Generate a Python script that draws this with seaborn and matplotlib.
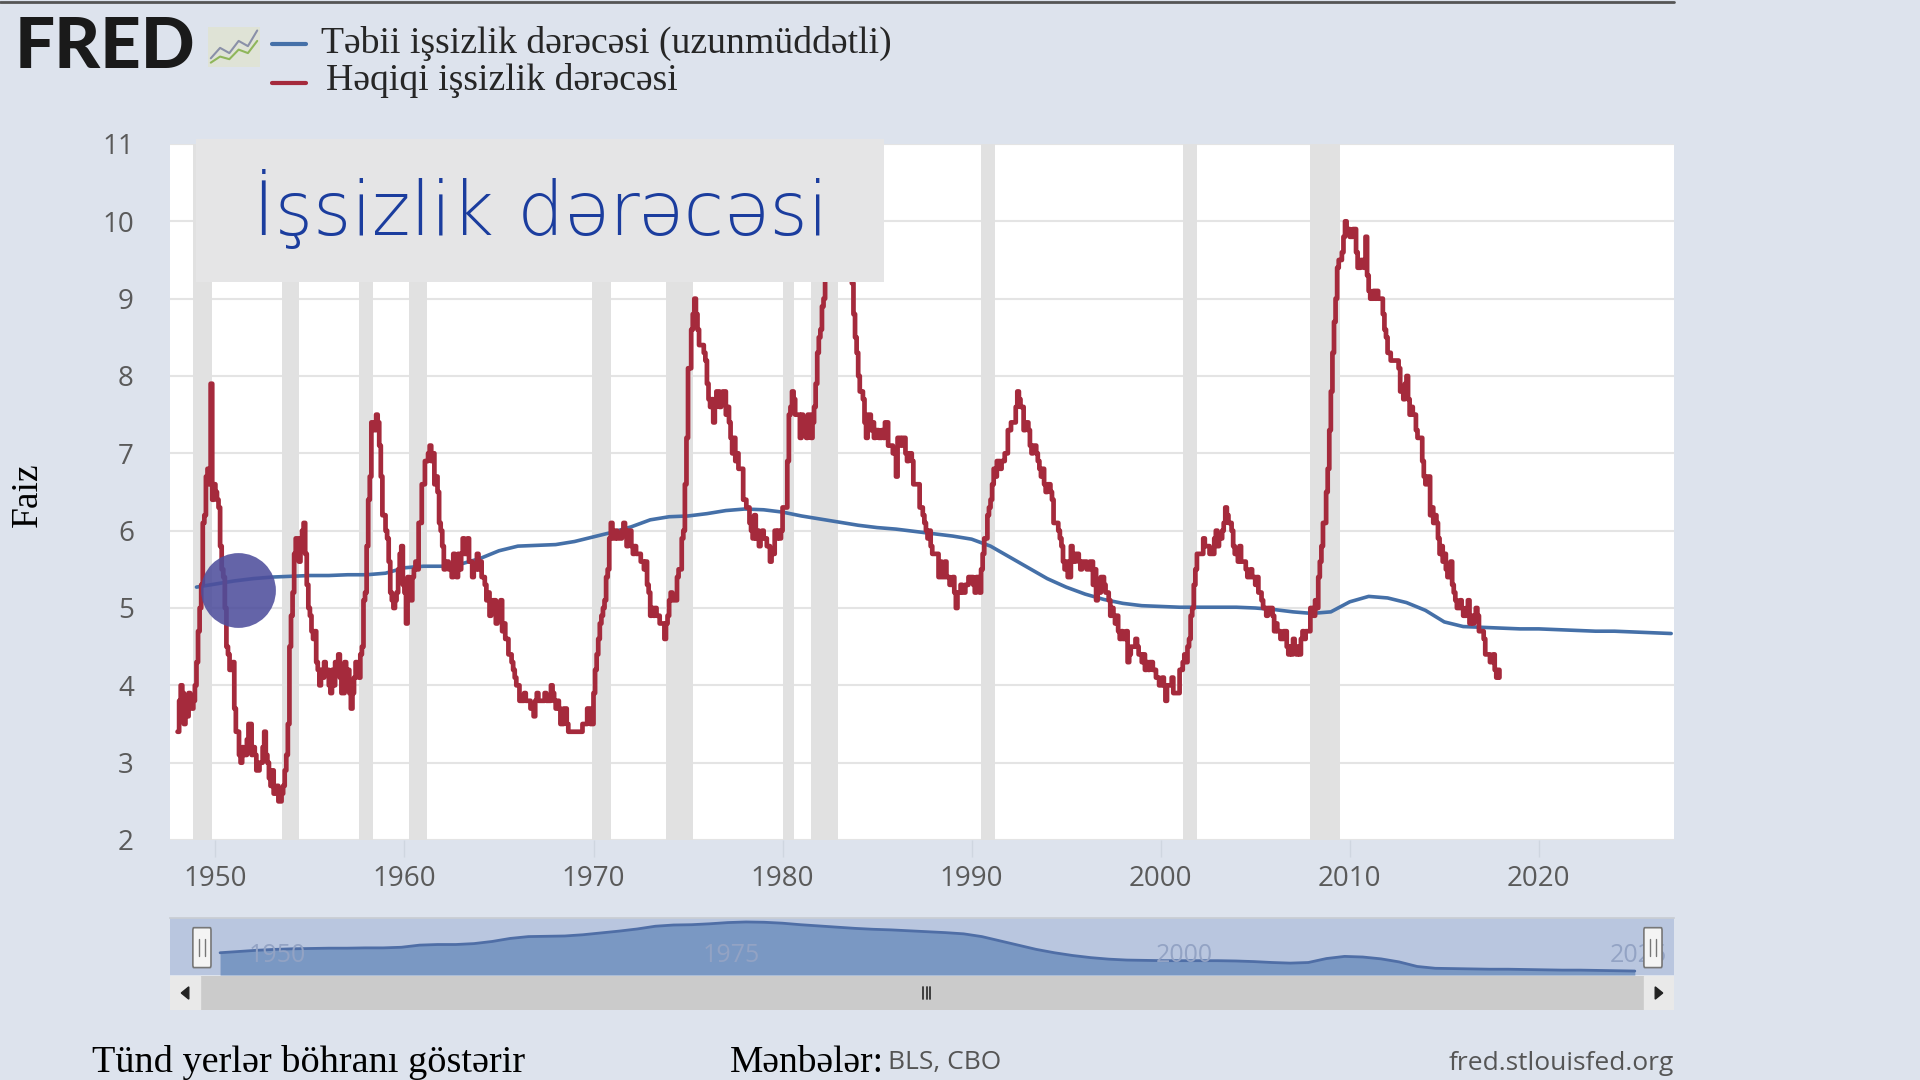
import numpy as np
import pandas as pd
import matplotlib
matplotlib.use("Agg")
import matplotlib.pyplot as plt
from matplotlib.patches import Rectangle, FancyBboxPatch, Polygon
from matplotlib.lines import Line2D
import seaborn as sns

# actual unemployment rate, monthly values per decade (starts Jan 1948)
rate_1940s = [3.4, 3.8, 4.0, 3.9, 3.5, 3.6, 3.6, 3.9, 3.8, 3.7, 3.8, 4.0,
              4.3, 4.7, 5.0, 5.3, 6.1, 6.2, 6.7, 6.8, 6.6, 7.9, 6.4, 6.6]
rate_1950s = [6.5, 6.4, 6.3, 5.8, 5.5, 5.4, 5.0, 4.5, 4.4, 4.2, 4.2, 4.3,
              3.7, 3.4, 3.4, 3.1, 3.0, 3.2, 3.1, 3.1, 3.3, 3.5, 3.5, 3.1,
              3.2, 3.1, 2.9, 2.9, 3.0, 3.0, 3.2, 3.4, 3.1, 3.0, 2.8, 2.7,
              2.9, 2.6, 2.6, 2.7, 2.5, 2.5, 2.6, 2.7, 2.9, 3.1, 3.5, 4.5,
              4.9, 5.2, 5.7, 5.9, 5.9, 5.6, 5.8, 6.0, 6.1, 5.7, 5.3, 5.0,
              4.9, 4.7, 4.6, 4.7, 4.3, 4.2, 4.0, 4.2, 4.1, 4.3, 4.2, 4.2,
              4.0, 3.9, 4.2, 4.0, 4.3, 4.3, 4.4, 4.1, 3.9, 3.9, 4.3, 4.2,
              4.2, 3.9, 3.7, 3.9, 4.1, 4.3, 4.2, 4.1, 4.4, 4.5, 5.1, 5.2,
              5.8, 6.4, 6.7, 7.4, 7.4, 7.3, 7.5, 7.4, 7.1, 6.7, 6.2, 6.2,
              6.0, 5.9, 5.6, 5.2, 5.1, 5.0, 5.1, 5.2, 5.5, 5.7, 5.8, 5.3]
rate_1960s = [5.2, 4.8, 5.4, 5.2, 5.1, 5.4, 5.5, 5.6, 5.5, 6.1, 6.1, 6.6,
              6.6, 6.9, 6.9, 7.0, 7.1, 6.9, 7.0, 6.6, 6.7, 6.5, 6.1, 6.0,
              5.8, 5.5, 5.6, 5.6, 5.5, 5.5, 5.4, 5.7, 5.6, 5.4, 5.7, 5.5,
              5.7, 5.9, 5.7, 5.7, 5.9, 5.6, 5.6, 5.4, 5.5, 5.5, 5.7, 5.5,
              5.6, 5.4, 5.4, 5.3, 5.1, 5.2, 4.9, 5.0, 5.1, 5.1, 4.8, 5.0,
              4.9, 5.1, 4.7, 4.8, 4.6, 4.6, 4.4, 4.4, 4.3, 4.2, 4.1, 4.0,
              4.0, 3.8, 3.8, 3.8, 3.9, 3.8, 3.8, 3.8, 3.7, 3.7, 3.6, 3.8,
              3.9, 3.8, 3.8, 3.8, 3.8, 3.9, 3.8, 3.8, 3.8, 4.0, 3.9, 3.8,
              3.7, 3.8, 3.7, 3.5, 3.5, 3.7, 3.7, 3.5, 3.4, 3.4, 3.4, 3.4,
              3.4, 3.4, 3.4, 3.4, 3.4, 3.5, 3.5, 3.5, 3.7, 3.7, 3.5, 3.5]
rate_1970s = [3.9, 4.2, 4.4, 4.6, 4.8, 4.9, 5.0, 5.1, 5.4, 5.5, 5.9, 6.1,
              5.9, 5.9, 6.0, 5.9, 5.9, 5.9, 6.0, 6.1, 6.0, 5.8, 6.0, 6.0,
              5.8, 5.7, 5.8, 5.7, 5.7, 5.7, 5.6, 5.6, 5.5, 5.6, 5.3, 5.2,
              4.9, 5.0, 4.9, 5.0, 4.9, 4.9, 4.8, 4.8, 4.8, 4.6, 4.8, 4.9,
              5.1, 5.2, 5.1, 5.1, 5.1, 5.4, 5.5, 5.5, 5.9, 6.0, 6.6, 7.2,
              8.1, 8.1, 8.6, 8.8, 9.0, 8.8, 8.6, 8.4, 8.4, 8.4, 8.3, 8.2,
              7.9, 7.7, 7.6, 7.7, 7.4, 7.6, 7.8, 7.8, 7.6, 7.7, 7.8, 7.8,
              7.5, 7.6, 7.4, 7.2, 7.0, 7.2, 6.9, 7.0, 6.8, 6.8, 6.8, 6.4,
              6.4, 6.3, 6.3, 6.1, 6.0, 5.9, 6.2, 5.9, 6.0, 5.8, 5.9, 6.0,
              5.9, 5.9, 5.8, 5.8, 5.6, 5.7, 5.7, 6.0, 5.9, 6.0, 5.9, 6.0]
rate_1980s = [6.3, 6.3, 6.3, 6.9, 7.5, 7.6, 7.8, 7.7, 7.5, 7.5, 7.5, 7.2,
              7.5, 7.4, 7.4, 7.2, 7.5, 7.5, 7.2, 7.4, 7.6, 7.9, 8.3, 8.5,
              8.6, 8.9, 9.0, 9.3, 9.4, 9.6, 9.8, 9.8, 10.1, 10.4, 10.8, 10.8,
              10.4, 10.4, 10.3, 10.2, 10.1, 10.1, 9.4, 9.5, 9.2, 8.8, 8.5, 8.3,
              8.0, 7.8, 7.8, 7.7, 7.4, 7.2, 7.5, 7.5, 7.3, 7.4, 7.2, 7.3,
              7.3, 7.2, 7.2, 7.3, 7.2, 7.4, 7.4, 7.1, 7.1, 7.1, 7.0, 7.0,
              6.7, 7.2, 7.2, 7.1, 7.2, 7.2, 7.0, 6.9, 7.0, 7.0, 6.9, 6.6,
              6.6, 6.6, 6.6, 6.3, 6.3, 6.2, 6.1, 6.0, 5.9, 6.0, 5.8, 5.7,
              5.7, 5.7, 5.7, 5.4, 5.6, 5.4, 5.4, 5.6, 5.4, 5.4, 5.3, 5.3,
              5.4, 5.2, 5.0, 5.2, 5.2, 5.3, 5.2, 5.2, 5.3, 5.3, 5.4, 5.4]
rate_1990s = [5.4, 5.3, 5.2, 5.4, 5.4, 5.2, 5.5, 5.7, 5.9, 5.9, 6.2, 6.3,
              6.4, 6.6, 6.8, 6.7, 6.9, 6.9, 6.8, 6.9, 6.9, 7.0, 7.0, 7.3,
              7.3, 7.4, 7.4, 7.4, 7.6, 7.8, 7.7, 7.6, 7.6, 7.3, 7.4, 7.4,
              7.3, 7.1, 7.0, 7.1, 7.1, 7.0, 6.9, 6.8, 6.7, 6.8, 6.6, 6.5,
              6.6, 6.6, 6.5, 6.4, 6.1, 6.1, 6.1, 6.0, 5.9, 5.8, 5.6, 5.5,
              5.6, 5.4, 5.4, 5.8, 5.6, 5.6, 5.7, 5.7, 5.6, 5.5, 5.6, 5.6,
              5.6, 5.5, 5.5, 5.6, 5.6, 5.3, 5.5, 5.1, 5.2, 5.2, 5.4, 5.4,
              5.3, 5.2, 5.2, 5.1, 4.9, 5.0, 4.9, 4.8, 4.9, 4.7, 4.6, 4.7,
              4.6, 4.6, 4.7, 4.3, 4.4, 4.5, 4.5, 4.5, 4.6, 4.5, 4.4, 4.4,
              4.3, 4.4, 4.2, 4.3, 4.2, 4.3, 4.3, 4.2, 4.2, 4.1, 4.1, 4.0]
rate_2000s = [4.0, 4.1, 4.0, 3.8, 4.0, 4.0, 4.0, 4.1, 3.9, 3.9, 3.9, 3.9,
              4.2, 4.2, 4.3, 4.4, 4.3, 4.5, 4.6, 4.9, 5.0, 5.3, 5.5, 5.7,
              5.7, 5.7, 5.7, 5.9, 5.8, 5.8, 5.8, 5.7, 5.7, 5.7, 5.9, 6.0,
              5.8, 5.9, 5.9, 6.0, 6.1, 6.3, 6.2, 6.1, 6.1, 6.0, 5.8, 5.7,
              5.7, 5.6, 5.8, 5.6, 5.6, 5.6, 5.5, 5.4, 5.4, 5.5, 5.4, 5.4,
              5.3, 5.4, 5.2, 5.2, 5.1, 5.0, 5.0, 4.9, 5.0, 5.0, 5.0, 4.9,
              4.7, 4.8, 4.7, 4.7, 4.6, 4.6, 4.7, 4.7, 4.5, 4.4, 4.5, 4.4,
              4.6, 4.5, 4.4, 4.5, 4.4, 4.6, 4.7, 4.6, 4.7, 4.7, 4.7, 5.0,
              5.0, 4.9, 5.1, 5.0, 5.4, 5.6, 5.8, 6.1, 6.1, 6.5, 6.8, 7.3,
              7.8, 8.3, 8.7, 9.0, 9.4, 9.5, 9.5, 9.6, 9.8, 10.0, 9.9, 9.9]
rate_2010s = [9.8, 9.8, 9.9, 9.9, 9.6, 9.4, 9.4, 9.5, 9.5, 9.4, 9.8, 9.3,
              9.1, 9.0, 9.0, 9.1, 9.0, 9.1, 9.0, 9.0, 9.0, 8.8, 8.6, 8.5,
              8.3, 8.3, 8.2, 8.2, 8.2, 8.2, 8.2, 8.1, 7.8, 7.8, 7.7, 7.9,
              8.0, 7.7, 7.5, 7.6, 7.5, 7.5, 7.3, 7.2, 7.2, 7.2, 6.9, 6.7,
              6.6, 6.7, 6.7, 6.2, 6.3, 6.1, 6.2, 6.1, 5.9, 5.7, 5.8, 5.6,
              5.7, 5.5, 5.4, 5.4, 5.6, 5.3, 5.2, 5.1, 5.0, 5.0, 5.1, 5.0,
              4.9, 4.9, 5.0, 5.1, 4.8, 4.9, 4.8, 4.9, 5.0, 4.9, 4.7, 4.7,
              4.7, 4.6, 4.4, 4.4, 4.4, 4.3, 4.3, 4.4, 4.2, 4.1, 4.2, 4.1]
rate_start = 1948

# natural (long-term) rate, yearly
nrou_years = list(range(1949, 2028))
nrou = [5.27, 5.31, 5.35, 5.38, 5.40, 5.41, 5.42, 5.42, 5.43, 5.43,
        5.45, 5.52, 5.54, 5.54, 5.57, 5.64, 5.74, 5.80, 5.81, 5.82,
        5.86, 5.92, 5.98, 6.05, 6.14, 6.18, 6.19, 6.22, 6.26, 6.28,
        6.27, 6.24, 6.19, 6.15, 6.11, 6.07, 6.04, 6.02, 5.99, 5.96,
        5.93, 5.89, 5.80, 5.66, 5.52, 5.38, 5.27, 5.18, 5.11, 5.06,
        5.03, 5.02, 5.01, 5.01, 5.01, 5.01, 5.00, 4.98, 4.95, 4.93,
        4.95, 5.08, 5.15, 5.13, 5.07, 4.97, 4.82, 4.76, 4.75, 4.74,
        4.73, 4.73, 4.72, 4.71, 4.70, 4.70, 4.69, 4.68, 4.67]

# recessions (decimal years)
rec_start = [1948.83, 1953.50, 1957.58, 1960.25, 1969.92, 1973.83,
             1980.00, 1981.50, 1990.50, 2001.17, 2007.92]
rec_end = [1949.83, 1954.42, 1958.33, 1961.17, 1970.92, 1975.25,
           1980.58, 1982.92, 1991.25, 2001.92, 2009.50]

# video cursor marker
cursor_x = [1951.2]
cursor_y = [5.23]

yticks = [2, 3, 4, 5, 6, 7, 8, 9, 10, 11]
xticks = [1950, 1960, 1970, 1980, 1990, 2000, 2010, 2020]
nav_labels = [1950, 1975, 2000, 2025]

title_txt = "İşsizlik dərəcəsi"
leg_nat = "Təbii işsizlik dərəcəsi (uzunmüddətli)"
leg_act = "Həqiqi işsizlik dərəcəsi"

BG = "#dde3ed"
RED = "#a52a3c"
BLUE = "#4570a8"
SERIF = ["Liberation Serif", "DejaVu Serif"]
SANS = ["Open Sans", "DejaVu Sans"]

sns.set_theme(style="white")
plt.rcParams["font.family"] = SANS

rate = rate_1940s + rate_1950s + rate_1960s + rate_1970s + rate_1980s + rate_1990s + rate_2000s + rate_2010s
df_act = pd.DataFrame({"year": rate_start + np.arange(len(rate)) / 12, "rate": rate})
df_nat = pd.DataFrame({"year": nrou_years, "rate": nrou})

fig = plt.figure(figsize=(19.2, 10.8), dpi=100, facecolor=BG)
ax = fig.add_axes([170 / 1920, 240 / 1080, 1504 / 1920, 696 / 1080])
ax.set_facecolor("white")

for s, e in zip(rec_start, rec_end):
    ax.axvspan(s, e, color="#e1e1e1", lw=0, zorder=1)

sns.lineplot(data=df_nat, x="year", y="rate", ax=ax, color=BLUE, lw=2.6, zorder=3)
sns.lineplot(data=df_act, x="year", y="rate", ax=ax, color=RED, lw=3.4, zorder=4,
             drawstyle="steps-post")
ax.scatter(cursor_x, cursor_y, s=2900, color="#4e4e9c", alpha=0.88, lw=0, zorder=6)

ax.set_xlim(1947.6, 2027.15)
ax.set_ylim(2, 11)
ax.set_yticks(yticks)
ax.set_xticks(xticks)
ax.yaxis.grid(True, color="#e4e4e4", lw=1.5)
ax.set_axisbelow(True)
for sp in ax.spines.values():
    sp.set_visible(False)
ax.tick_params(axis="y", length=0, pad=26, labelsize=20, labelcolor="#5a5a5a")
ax.tick_params(axis="x", length=12, width=1, color="#cfd6e0", pad=6,
               labelsize=20, labelcolor="#5a5a5a", bottom=True)
ax.set_xlabel("")
ax.set_ylabel("Faiz", family=SERIF, fontsize=27, color="black")
ax.yaxis.set_label_coords(-(170 - 45) / 1504, 0.496)

# title box on top of the plot
ax.add_patch(Rectangle((0.017, 0.8017), 0.458, 0.205, transform=ax.transAxes,
                       facecolor="#e5e5e6", lw=0, zorder=8, clip_on=False))
ax.text(0.2467, 0.905, title_txt, transform=ax.transAxes, ha="center", va="center",
        fontsize=53, color="#1b3d9e", family="DejaVu Sans", weight="light", zorder=9)

# header: logo and legend
fig.text(15 / 1920, 1 - 47 / 1080, "FRED", fontsize=51, weight="black",
         family=["Lato", "DejaVu Sans"], color="#1a1a1a", va="center", ha="left")
icon = fig.add_axes([208 / 1920, 1 - 67 / 1080, 52 / 1920, 40 / 1080])
icon_x = [0, 1, 2, 3, 4, 5]
icon_a = [1.0, 2.2, 1.6, 3.0, 2.4, 4.2]
icon_b = [0.5, 1.2, 0.9, 2.0, 1.6, 3.0]
icon.add_patch(Rectangle((0, 0), 1, 1, transform=icon.transAxes, color="#dfe3d6", zorder=0))
icon.plot(icon_x, icon_a, color="#8a90a8", lw=1.5)
icon.plot(icon_x, icon_b, color="#8fb65a", lw=1.5)
icon.set_xlim(-0.3, 5.3)
icon.set_ylim(0, 4.6)
icon.axis("off")

fig.add_artist(Line2D([272 / 1920, 306 / 1920], [1 - 44 / 1080] * 2, color=BLUE, lw=3))
fig.add_artist(Line2D([272 / 1920, 306 / 1920], [1 - 83 / 1080] * 2, color=RED, lw=3))
fig.text(321 / 1920, 1 - 43 / 1080, leg_nat, family=SERIF, fontsize=27.2, va="center")
fig.text(326 / 1920, 1 - 81 / 1080, leg_act, family=SERIF, fontsize=27.2, va="center")
fig.add_artist(Line2D([0, 1674 / 1920], [0.9985, 0.9985], color="#555555", lw=2))

# navigator
nav = fig.add_axes([170 / 1920, 105 / 1080, 1504 / 1920, 57 / 1080])
nav.set_facecolor("#b9c6df")
nav.set_xlim(1946.24, 2029.16)
nav.set_ylim(4.54, 6.41)
nav.fill_between(nrou_years, nrou, 4.54, color="#7a98c3", lw=0, zorder=2)
sns.lineplot(x=nrou_years, y=nrou, ax=nav, color="#4f6ea6", lw=2, zorder=3)
for yr in nav_labels:
    nav.text(yr + 0.6, 0.12, str(yr), transform=nav.get_xaxis_transform(),
             fontsize=18, color="#93a3c4", zorder=4, va="bottom")
nav.set_xticks([])
nav.set_yticks([])
nav.set_xlabel("")
nav.set_ylabel("")
for k, sp in nav.spines.items():
    sp.set_visible(k == "top")
nav.spines["top"].set_color("#c9cdd3")
for hx in [rate_start, nrou_years[-1] + 1]:
    nav.add_patch(FancyBboxPatch((hx - 0.45, 0.18), 0.9, 0.6, boxstyle="round,pad=0.05",
                                 transform=nav.get_xaxis_transform(), facecolor="#f4f4f4",
                                 edgecolor="#777777", lw=1.2, zorder=6, clip_on=False))
    for dx in (-0.15, 0.15):
        nav.plot([hx + dx, hx + dx], [0.33, 0.63], transform=nav.get_xaxis_transform(),
                 color="#777777", lw=1, zorder=7)

# scrollbar
bar = fig.add_axes([170 / 1920, 70 / 1080, 1504 / 1920, 34 / 1080])
bar.set_xlim(0, 1)
bar.set_ylim(0, 1)
bar.axis("off")
bar.add_patch(Rectangle((0, 0), 1, 1, color="#cbcbcb", zorder=0))
bar.add_patch(Rectangle((0, 0), 0.02, 1, color="#e9e9e9", zorder=1))
bar.add_patch(Rectangle((0.98, 0), 0.02, 1, color="#e9e9e9", zorder=1))
bar.add_patch(Polygon([[0.0125, 0.32], [0.0125, 0.68], [0.0075, 0.5]], color="#222222", zorder=2))
bar.add_patch(Polygon([[0.9875, 0.32], [0.9875, 0.68], [0.9925, 0.5]], color="#222222", zorder=2))
for gx in (0.5005, 0.503, 0.5055):
    bar.plot([gx, gx], [0.32, 0.68], color="#333333", lw=1.3)

# footer
fig.text(92 / 1920, 1 - 1063 / 1080, "Tünd yerlər böhranı göstərir", family=SERIF,
         fontsize=27.5, va="center", ha="left", color="black")
fig.text(730 / 1920, 1 - 1063 / 1080, "Mənbələr:", family=SERIF, fontsize=27,
         va="center", ha="left", color="black")
fig.text(888 / 1920, 1 - 1063 / 1080, "BLS, CBO", fontsize=19, va="center",
         ha="left", color="#555555")
fig.text(1674 / 1920, 1 - 1063 / 1080, "fred.stlouisfed.org", fontsize=19,
         va="center", ha="right", color="#555555")

fig.savefig("out.png", dpi=100, facecolor=BG)
